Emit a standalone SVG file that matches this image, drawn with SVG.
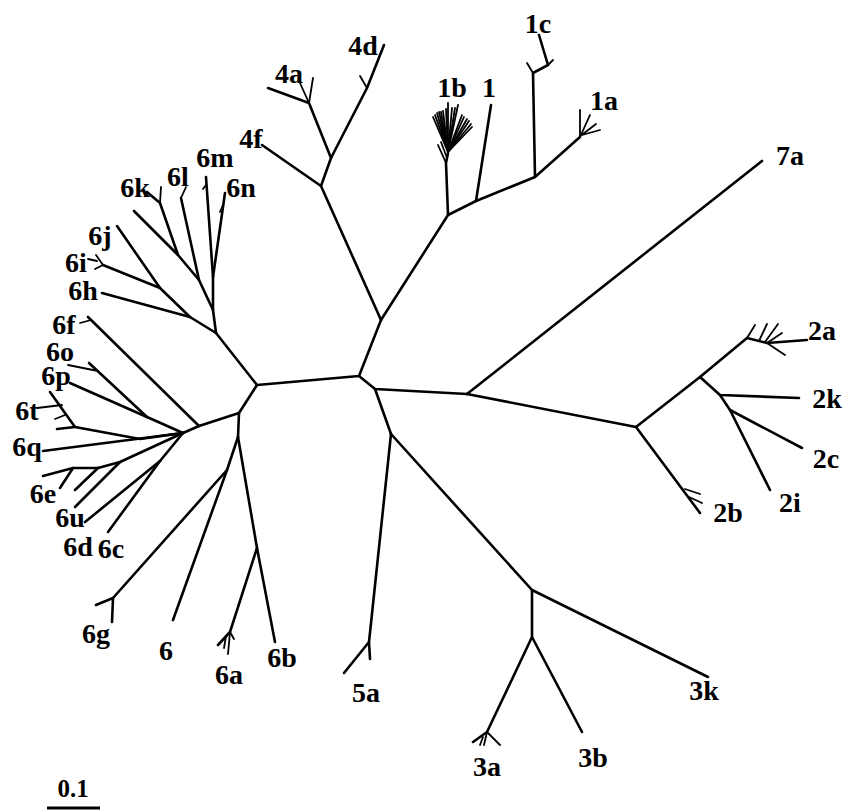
<svg xmlns="http://www.w3.org/2000/svg" width="848" height="812" viewBox="0 0 848 812">
<style>
.e{stroke:#000;stroke-width:2.6;fill:none;stroke-linecap:round;stroke-linejoin:round}
.t{stroke:#000;stroke-width:1.8;fill:none;stroke-linecap:round}
.l{font-family:"Liberation Serif","Times New Roman",serif;font-weight:bold;font-size:28px;fill:#000;text-anchor:middle}
</style>
<rect width="848" height="812" fill="#fff"/>
<g id="connectors">
<!-- core -->
<polyline class="e" points="216,333 257,385 359,376 381,320"/>
<polyline class="e" points="359,376 375,389 467,394"/>
<polyline class="e" points="375,389 391,434"/>
<polyline class="e" points="257,385 239,413 238,437"/>
<polyline class="e" points="239,413 199,426 183,433"/>
<!-- 7a -->
<line class="e" x1="467" y1="394" x2="762" y2="161"/>
<!-- 1 cluster -->
<polyline class="e" points="381,320 448,215 476,201 535,177 580,137"/>
<line class="e" x1="476" y1="201" x2="491" y2="105"/>
<polyline class="e" points="535,177 533,73 548,65 539,35"/>
<line class="t" x1="533" y1="73" x2="527" y2="63"/>
<line class="t" x1="548" y1="65" x2="553" y2="60"/>
<line class="t" x1="580" y1="137" x2="580" y2="110"/>
<line class="t" x1="580" y1="137" x2="590" y2="115"/>
<line class="t" x1="582" y1="135" x2="600" y2="130"/>
<line class="t" x1="583" y1="134" x2="596" y2="124"/>
<polyline class="e" points="448,215 446,163 448,153"/>
<line class="t" x1="446" y1="163" x2="438" y2="145"/>
<line class="t" x1="447" y1="158" x2="441" y2="142"/>
<g class="t">
<line x1="448" y1="152" x2="433" y2="117"/>
<line x1="448" y1="152" x2="435" y2="115"/>
<line x1="448" y1="152" x2="437" y2="113"/>
<line x1="448" y1="152" x2="439" y2="112"/>
<line x1="448" y1="152" x2="441" y2="112"/>
<line x1="448" y1="152" x2="443" y2="111"/>
<line x1="448" y1="152" x2="446" y2="109"/>
<line x1="448" y1="152" x2="448" y2="103"/>
<line x1="448" y1="152" x2="452" y2="108"/>
<line x1="448" y1="152" x2="455" y2="108"/>
<line x1="448" y1="152" x2="458" y2="105"/>
<line x1="448" y1="152" x2="462" y2="115"/>
<line x1="448" y1="152" x2="464" y2="117"/>
<line x1="448" y1="152" x2="467" y2="119"/>
<line x1="448" y1="152" x2="469" y2="121"/>
<line x1="448" y1="152" x2="471" y2="124"/>
<line x1="448" y1="152" x2="472" y2="127"/>
</g>
<!-- 4 cluster -->
<polyline class="e" points="381,320 321,186 262,145"/>
<polyline class="e" points="321,186 331,158 309,103 268,88"/>
<line class="t" x1="309" y1="103" x2="300" y2="83"/>
<line class="t" x1="309" y1="103" x2="313" y2="78"/>
<polyline class="e" points="331,158 367,88 384,45"/>
<line class="t" x1="367" y1="88" x2="360" y2="76"/>
<!-- 6 upper -->
<polyline class="e" points="216,333 190,317 102,293"/>
<polyline class="e" points="190,317 160,288 103,265"/>
<line class="e" x1="160" y1="288" x2="117" y2="226"/>
<line class="t" x1="103" y1="265" x2="96" y2="255"/>
<line class="t" x1="103" y1="265" x2="95" y2="269"/>
<line class="t" x1="88" y1="259" x2="97" y2="261"/>
<polyline class="e" points="216,333 213,310 199,280 178,255 160,203 147,192"/>
<line class="t" x1="160" y1="203" x2="161" y2="187"/>
<line class="e" x1="178" y1="255" x2="134" y2="211"/>
<polyline class="e" points="199,280 181,198"/>
<line class="t" x1="181" y1="198" x2="186" y2="187"/>
<polyline class="e" points="213,310 213,277 206,177"/>
<line class="e" x1="213" y1="277" x2="225" y2="193"/>
<line class="t" x1="206" y1="185" x2="203" y2="189"/>
<line class="t" x1="223" y1="205" x2="220" y2="212"/>
<!-- 6f -->
<line class="e" x1="199" y1="426" x2="88" y2="317"/>
<line class="t" x1="91" y1="320" x2="80" y2="323"/>
<!-- 6 lower-left -->
<polyline class="e" points="183,433 147,417 70,383"/>
<line class="e" x1="147" y1="417" x2="89" y2="363"/>
<line class="t" x1="98" y1="371" x2="68" y2="365"/>
<polyline class="e" points="183,433 140,439 75,427 50,392"/>
<line class="e" x1="75" y1="427" x2="57" y2="429"/>
<line class="t" x1="62" y1="405" x2="37" y2="408"/>
<line class="t" x1="65" y1="415" x2="55" y2="419"/>
<line class="e" x1="183" y1="433" x2="43" y2="451"/>
<polyline class="e" points="183,433 120,462 98,468 73,468 43,476"/>
<line class="e" x1="73" y1="468" x2="60" y2="488"/>
<line class="e" x1="98" y1="468" x2="75" y2="490"/>
<line class="e" x1="120" y1="462" x2="75" y2="507"/>
<polyline class="e" points="183,433 160,461 85,522"/>
<line class="e" x1="160" y1="461" x2="108" y2="532"/>
<!-- 6 bottom -->
<polyline class="e" points="238,437 227,470 113,598 96,605"/>
<line class="e" x1="113" y1="598" x2="112" y2="622"/>
<line class="e" x1="227" y1="470" x2="173" y2="620"/>
<polyline class="e" points="238,437 257,548 275,642"/>
<polyline class="e" points="257,548 230,632 218,645"/>
<line class="t" x1="230" y1="632" x2="228" y2="654"/>
<line class="t" x1="230" y1="632" x2="234" y2="639"/>
<line class="t" x1="226" y1="636" x2="224" y2="648"/>
<!-- 5a -->
<polyline class="e" points="391,434 369,642 370,659"/>
<line class="e" x1="369" y1="642" x2="344" y2="673"/>
<!-- 3 cluster -->
<polyline class="e" points="391,434 532,590 708,677"/>
<polyline class="e" points="532,590 532,637 582,732"/>
<polyline class="e" points="532,637 487,732 473,742"/>
<line class="t" x1="487" y1="732" x2="484" y2="745"/>
<line class="t" x1="487" y1="732" x2="500" y2="745"/>
<line class="t" x1="483" y1="737" x2="480" y2="745"/>
<!-- 2 cluster -->
<polyline class="e" points="467,394 636,427 700,377 747,338 767,343 807,340"/>
<line class="t" x1="747" y1="338" x2="755" y2="325"/>
<line class="t" x1="759" y1="341" x2="767" y2="324"/>
<line class="t" x1="765" y1="342" x2="778" y2="324"/>
<line class="t" x1="767" y1="343" x2="782" y2="333"/>
<line class="t" x1="767" y1="343" x2="785" y2="355"/>
<polyline class="e" points="700,377 720,395 799,398"/>
<polyline class="e" points="720,395 730,410 802,448"/>
<line class="e" x1="730" y1="410" x2="770" y2="490"/>
<line class="e" x1="636" y1="427" x2="700" y2="513"/>
<line class="t" x1="685" y1="489" x2="700" y2="494"/>
<line class="t" x1="689" y1="497" x2="702" y2="503"/>
<!-- scale bar -->
<line x1="47" y1="808" x2="100" y2="808" stroke="#000" stroke-width="3"/>
</g>
<g id="labels" class="l">
<text x="538" y="33">1c</text>
<text x="452" y="97">1b</text>
<text x="489" y="97">1</text>
<text x="604" y="110">1a</text>
<text x="363" y="55">4d</text>
<text x="289" y="83">4a</text>
<text x="251" y="148">4f</text>
<text x="790" y="165">7a</text>
<text x="215" y="167">6m</text>
<text x="178" y="186">6l</text>
<text x="241" y="197">6n</text>
<text x="135" y="197">6k</text>
<text x="100" y="245">6j</text>
<text x="76" y="272">6i</text>
<text x="83" y="300">6h</text>
<text x="64" y="334">6f</text>
<text x="60" y="361">6o</text>
<text x="56" y="385">6p</text>
<text x="27" y="420">6t</text>
<text x="27" y="456">6q</text>
<text x="43" y="503">6e</text>
<text x="70" y="527">6u</text>
<text x="78" y="556">6d</text>
<text x="111" y="558">6c</text>
<text x="96" y="643">6g</text>
<text x="166" y="660">6</text>
<text x="229" y="684">6a</text>
<text x="282" y="667">6b</text>
<text x="366" y="702">5a</text>
<text x="487" y="776">3a</text>
<text x="593" y="767">3b</text>
<text x="704" y="700">3k</text>
<text x="822" y="340">2a</text>
<text x="827" y="408">2k</text>
<text x="826" y="468">2c</text>
<text x="790" y="512">2i</text>
<text x="728" y="522">2b</text>
<text x="73" y="797" style="font-size:25px">0.1</text>
</g>
</svg>
